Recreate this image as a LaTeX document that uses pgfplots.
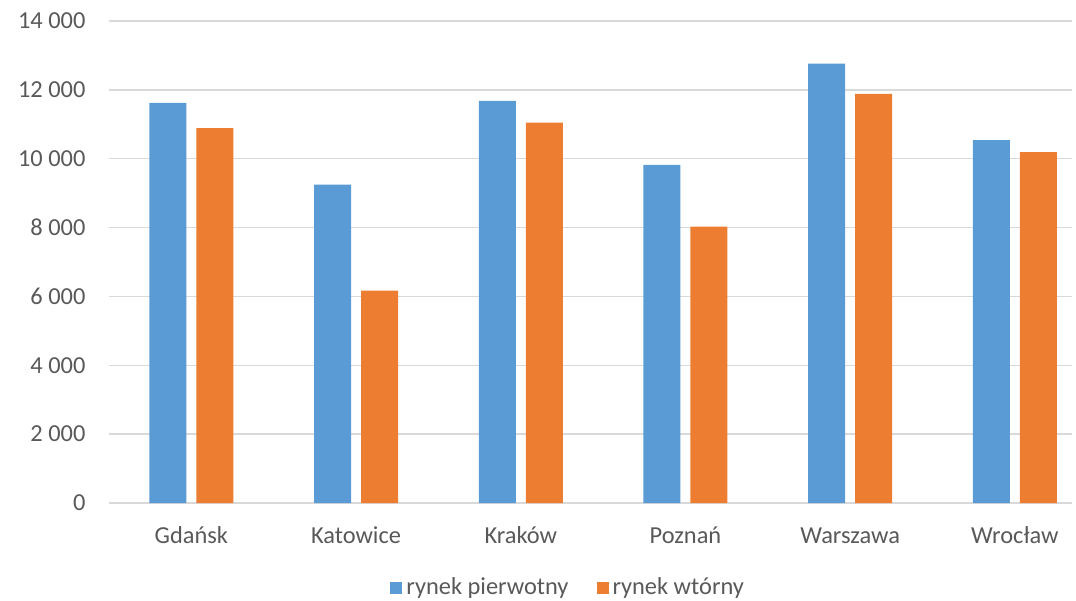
\documentclass[border=0pt]{standalone}
\usepackage{pgfplots}
\pgfplotsset{compat=1.18}
\usepackage{fontspec}
\setmainfont{Carlito}
\definecolor{cblue}{RGB}{91,155,213}
\definecolor{corange}{RGB}{237,125,49}
\definecolor{cgrid}{RGB}{217,217,217}
\definecolor{ctext}{RGB}{89,89,89}
\begin{document}
\fontsize{12.2}{14}\selectfont
\begin{tikzpicture}
\path[use as bounding box] (-54.5pt,-48.5pt) rectangle (483.5pt,251.5pt);
\begin{axis}[
  at={(0pt,0pt)}, anchor=south west,
  scale only axis, width=481.5pt, height=241pt,
  ybar=5pt, bar width=18.5pt,
  xmin=-0.5, xmax=5.347, ymin=0, ymax=14000,
  scaled y ticks=false,
  xtick={0,1,2,3,4,5},
  xticklabels={Gdańsk,Katowice,Kraków,Poznań,Warszawa,Wrocław},
  ytick={0,2000,4000,6000,8000,10000,12000,14000},
  yticklabels={0,2 000,4 000,6 000,8 000,10 000,12 000,14 000},
  axis line style={draw=none},
  major tick length=0pt,
  ymajorgrids, grid style={cgrid, line width=0.75pt},
  ticklabel style={font=\fontsize{12.2}{14}\selectfont, text=ctext},
  yticklabel style={anchor=east, xshift=-7.5pt},
  xticklabel style={anchor=base, yshift=-20pt},
  legend style={at={(0.2918,-0.1763)}, anchor=west, draw=none, inner sep=0pt,
    font=\fontsize{12.2}{14}\selectfont, text=ctext,
    legend columns=2, /tikz/every even column/.append style={column sep=12pt}},
  legend image code/.code={\fill[#1] (0pt,-3pt) rectangle (6pt,3pt);},
  clip=false,
]
\addplot[fill=cblue, draw=none] coordinates {(0,11620) (1,9250) (2,11680) (3,9820) (4,12760) (5,10540)};
\addplot[fill=corange, draw=none] coordinates {(0,10890) (1,6170) (2,11050) (3,8030) (4,11880) (5,10190)};
\legend{rynek pierwotny, rynek wtórny}
\end{axis}
\end{tikzpicture}
\end{document}
